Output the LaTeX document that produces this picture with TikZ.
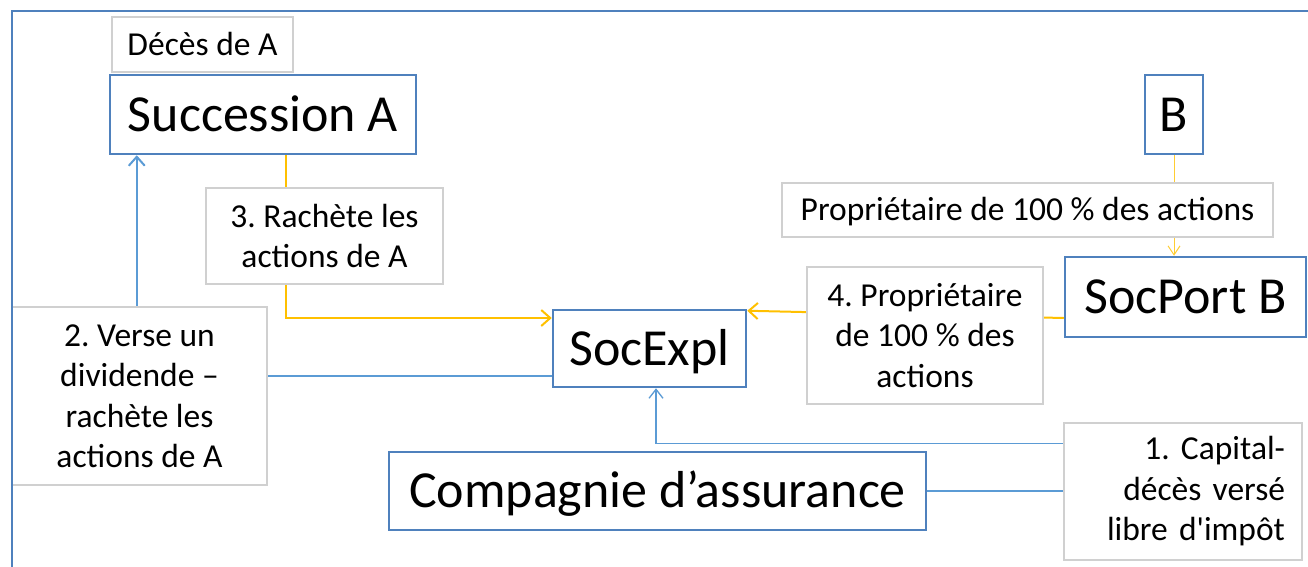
\documentclass[tikz,border=0pt]{standalone}
\usepackage{fontspec}
\setmainfont{Carlito}[Ligatures=TeXOff]
\usepackage{tikz}
\usetikzlibrary{arrows.meta,positioning,calc,backgrounds}
\definecolor{boxblue}{HTML}{4F81BD}
\definecolor{linkblue}{HTML}{5B9BD5}
\definecolor{gold}{HTML}{FFC000}
\definecolor{notegray}{HTML}{D0D0D0}
\frenchspacing

\tikzset{
  entity/.style={draw=boxblue,line width=2.5pt,fill=white,inner sep=0pt,
    text height=35.4pt,text depth=2pt,font=\fontsize{52}{62}\selectfont},
  note/.style={draw=notegray,line width=1.1pt,fill=white,inner sep=0pt,
    align=center,font=\fontsize{33.5}{40.5}\selectfont},
  caption/.style={note,text height=22.8pt,text depth=1.3pt},
  bluelink/.style={draw=linkblue,line width=2pt,-{Straight Barb[length=9pt,width=16pt]}},
  bluethin/.style={draw=linkblue,line width=1.3pt,-{Straight Barb[length=9pt,width=14pt]}},
  goldlink/.style={draw=gold,line width=2pt,-{Straight Barb[length=9pt,width=16pt]}},
  goldthin/.style={draw=gold!80,line width=1pt,-{Straight Barb[length=9pt,width=12pt]}},
  frameline/.style={draw=boxblue,line width=2.2pt}
}

\begin{document}
\begin{tikzpicture}[x=1pt,y=-1pt]
\useasboundingbox (0,0) rectangle (1308,567);

% parties
\node[entity,minimum width=306pt,minimum height=79pt] (succ) at (263,114.5) {Succession A};
\node[entity,minimum width=193pt,minimum height=77pt] (socexpl) at (649.5,348.5) {SocExpl};
\node[entity,minimum width=58pt,minimum height=79pt] (bnode) at (1174,114.5) {B};
\node[entity,minimum width=241pt,minimum height=80pt] (socport) at (1185.5,297) {SocPort B};
\node[entity,minimum width=537pt,minimum height=78pt] (assureur) at (657.5,491) {Compagnie d’assurance};

% flows, kept under the labels
\begin{scope}[on background layer]
\draw[bluelink] ($(socexpl.west)+(0,27.5)$) -| ($(succ.south west)+(28,0)$);
\draw[goldlink] ($(succ.south west)+(177,0)$) |- ($(socexpl.west)+(0,-30.5)$);
\draw[goldlink] ($(socport.west)+(0,21)$) -- ($(socexpl.north east)+(0,2)$);
\draw[goldthin] (bnode.south) -- (bnode.south |- socport.north);
\draw[bluethin] (assureur.east) -- ++(170,0) |- ($(socexpl.south)+(6.5,55)$) -- ($(socexpl.south)+(6.5,0)$);
\end{scope}

% labels
\node[caption,minimum width=181pt,minimum height=55pt] (deces) at (202.5,44.5) {Décès de A};
\node[note,minimum width=237pt,minimum height=96pt] (rachat) at (324.5,236) {3. Rachète les\\actions de A};
\node[note,minimum width=255pt,minimum height=178pt] (dividende) at (139.5,396) {2. Verse un\\dividende –\\rachète les\\actions de A};
\node[note,minimum width=236pt,minimum height=137pt] (detention) at (925,335.5) {4. Propriétaire\\de 100 \% des\\actions};
\node[caption,minimum width=491pt,minimum height=54pt] (propb) at (1027.5,210) {Propriétaire de 100 \% des actions};
\node[note,minimum width=238pt,minimum height=137pt,text width=204pt,align=right] (capital) at (1183,491.5) {1. Capital-\\décès versé\\libre d'impôt};

\draw[frameline] (12,567) -- (12,11) -- (1308,11);
\end{tikzpicture}
\end{document}
